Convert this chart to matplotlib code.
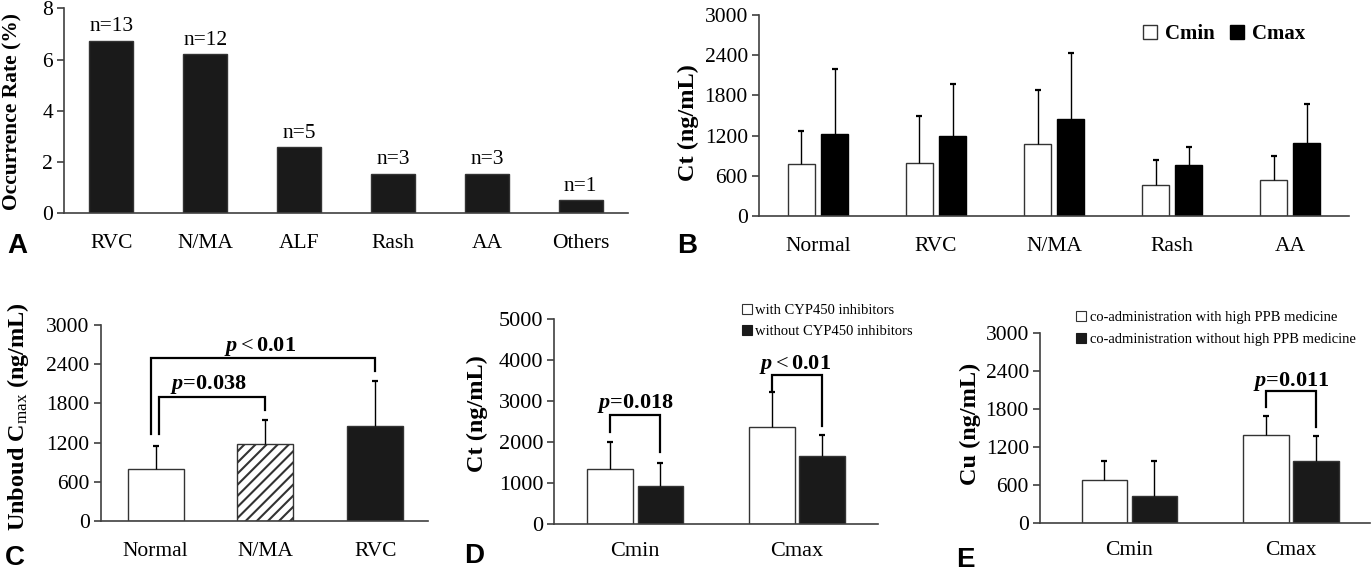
import numpy as np
import matplotlib
matplotlib.use('Agg')
import matplotlib.pyplot as plt
from matplotlib.patches import Patch

plt.rcParams['font.family'] = 'Liberation Serif'
plt.rcParams['mathtext.fontset'] = 'custom'
plt.rcParams['mathtext.it'] = 'Liberation Serif:italic:bold'
plt.rcParams['mathtext.rm'] = 'Liberation Serif'
plt.rcParams['mathtext.bf'] = 'Liberation Serif:bold'
plt.rcParams['hatch.linewidth'] = 1.5

# A: occurrence rate
cats_a = ['RVC', 'N/MA', 'ALF', 'Rash', 'AA', 'Others']
rate_a = [6.74, 6.22, 2.59, 1.55, 1.55, 0.52]
n_a = [13, 12, 5, 3, 3, 1]

# B: Ct by ADR group
cats_b = ['Normal', 'RVC', 'N/MA', 'Rash', 'AA']
cmin_b = [779, 794, 1078, 454, 529]
cmin_b_sd = [494, 703, 804, 385, 360]
cmax_b = [1228, 1198, 1443, 754, 1083]
cmax_b_sd = [973, 769, 998, 269, 594]

# C: unbound Cmax
cats_c = ['Normal', 'N/MA', 'RVC']
cmax_c = [793, 1183, 1459]
cmax_c_sd = [354, 358, 691]

# D: CYP450 inhibitors
cats_d = ['Cmin', 'Cmax']
with_d = [1341, 2366]
with_d_sd = [675, 862]
without_d = [927, 1667]
without_d_sd = [577, 520]

# E: high PPB co-administration
cats_e = ['Cmin', 'Cmax']
with_e = [682, 1395]
with_e_sd = [304, 294]
without_e = [435, 981]
without_e_sd = [541, 388]

# significance labels: (x_left, x_right, y_left, y_right, y_top, label, text_x, text_y)
sig_c = [(0.03, 1.0, 1331, 1700, 1904, '$p$=0.038', 0.48, 2090),
         (-0.04, 2.0, 1331, 2304, 2498, '$p<$0.01', 0.95, 2680)]
sig_d = [(-0.155, 0.155, 2260, 1756, 2667, '$p$=0.018', 0.0, 2950),
         (0.845, 1.155, 3276, 2398, 3642, '$p<$0.01', 0.99, 3900)]
sig_e = [(0.845, 1.155, 1825, 1521, 2087, '$p$=0.011', 1.0, 2225)]

W, H = 1372, 573
fig = plt.figure(figsize=(W / 100, H / 100), dpi=100)

AX_COL = '#404040'
BAR_BLACK = '#1a1a1a'
EDGE = '#333333'


def add_ax(l, r, top, bottom):
    return fig.add_axes([l / W, 1 - bottom / H, (r - l) / W, (bottom - top) / H])


def style(ax, size=15.5):
    for s in ['top', 'right']:
        ax.spines[s].set_visible(False)
    for s in ['left', 'bottom']:
        ax.spines[s].set_color(AX_COL)
        ax.spines[s].set_linewidth(1.2)
    ax.tick_params(axis='y', direction='out', length=5, width=1.2, color=AX_COL,
                   labelsize=size, pad=3)
    ax.tick_params(axis='x', length=0, labelsize=size, pad=15)


def upper_err(ax, x, y, e):
    top = np.array(y) + np.array(e)
    ax.vlines(x, y, top, color='black', lw=1, zorder=3)
    ax.plot(x, top, linestyle='none', marker='_', markersize=5, mew=1.6,
            color='black', zorder=3)


def brackets(ax, specs):
    for x1, x2, y1, y2, yt, lab, tx, ty in specs:
        ax.plot([x1, x1, x2, x2], [y1, yt, yt, y2], color='black', lw=1.6,
                solid_joinstyle='miter', zorder=4)
        ax.text(tx, ty, lab, ha='center', va='center', fontsize=16,
                fontweight='bold')


def ylab(x, y, s, size=17.5):
    fig.text(x / W, 1 - y / H, s, rotation=90, ha='center', va='center',
             fontsize=size, fontweight='bold')


def letter(x, y, s):
    fig.text(x / W, 1 - y / H, s, ha='center', va='center', fontsize=20,
             fontweight='bold', family='Liberation Sans')


# ---- A
axa = add_ax(64.3, 627.7, 8.3, 213.3)
xa = np.arange(len(cats_a))
axa.bar(xa, rate_a, width=0.47, color=BAR_BLACK, edgecolor=EDGE, linewidth=1)
for xi, r, n in zip(xa, rate_a, n_a):
    axa.annotate('n=%d' % n, (xi, r), xytext=(0, 3), textcoords='offset points',
                 ha='center', va='bottom', fontsize=15.5)
axa.set_xlim(-0.5, 5.5)
axa.set_ylim(0, 8)
axa.set_yticks([0, 2, 4, 6, 8])
axa.set_xticks(xa)
axa.set_xticklabels(cats_a)
style(axa)
ylab(12, 111, 'Occurrence Rate (%)', 15.5)
letter(17, 246, 'A')

# ---- B
axb = add_ax(759, 1349.3, 15.3, 215.7)
xb = np.arange(len(cats_b))
off = 0.141
axb.bar(xb - off, cmin_b, width=0.23, color='white', edgecolor=EDGE, linewidth=1)
axb.bar(xb + off, cmax_b, width=0.23, color='black', edgecolor='black', linewidth=1)
upper_err(axb, xb - off, cmin_b, cmin_b_sd)
upper_err(axb, xb + off, cmax_b, cmax_b_sd)
axb.set_xlim(-0.5, 4.5)
axb.set_ylim(0, 3000)
axb.set_yticks([0, 600, 1200, 1800, 2400, 3000])
axb.set_xticks(xb)
axb.set_xticklabels(cats_b)
style(axb)
ylab(688, 123, 'Ct (ng/mL)')
letter(687.5, 246, 'B')
hb = [Patch(facecolor='white', edgecolor=EDGE, linewidth=1),
      Patch(facecolor='black', edgecolor='black', linewidth=1)]
fig.legend(hb, ['Cmin', 'Cmax'], loc='center left',
           bbox_to_anchor=(1142.7 / W, 1 - 34.3 / H), ncol=2, frameon=False,
           borderpad=0, borderaxespad=0, handlelength=0.67, handleheight=0.67,
           handletextpad=0.4, columnspacing=0.72,
           prop={'family': 'Liberation Serif', 'weight': 'bold', 'size': 15})

# ---- C
axc = add_ax(100.7, 428, 325.3, 520.7)
xc = np.arange(len(cats_c))
axc.bar(xc[0], cmax_c[0], width=0.51, color='white', edgecolor=EDGE, linewidth=1)
axc.bar(xc[1], cmax_c[1], width=0.51, color='white', edgecolor=EDGE, linewidth=1,
        hatch='///')
axc.bar(xc[2], cmax_c[2], width=0.51, color=BAR_BLACK, edgecolor=EDGE, linewidth=1)
upper_err(axc, xc, cmax_c, cmax_c_sd)
axc.set_xlim(-0.5, 2.48)
axc.set_ylim(0, 3000)
axc.set_yticks([0, 600, 1200, 1800, 2400, 3000])
axc.set_xticks(xc)
axc.set_xticklabels(cats_c)
style(axc)
brackets(axc, sig_c)
ylab(18, 416.7, r'Unboud $\mathbf{C}_{\mathrm{max}}$ (ng/mL)')
letter(15, 558, 'C')

# ---- D
axd = add_ax(554.3, 878, 319.3, 524.3)
xd = np.arange(len(cats_d))
off = 0.155
axd.bar(xd - off, with_d, width=0.281, color='white', edgecolor=EDGE, linewidth=1)
axd.bar(xd + off, without_d, width=0.281, color=BAR_BLACK, edgecolor=EDGE, linewidth=1)
upper_err(axd, xd - off, with_d, with_d_sd)
upper_err(axd, xd + off, without_d, without_d_sd)
axd.set_xlim(-0.5, 1.5)
axd.set_ylim(0, 5000)
axd.set_yticks([0, 1000, 2000, 3000, 4000, 5000])
axd.set_xticks(xd)
axd.set_xticklabels(cats_d)
style(axd, 16)
axd.tick_params(axis='x', pad=13)
brackets(axd, sig_d)
ylab(477.5, 413.3, 'Ct (ng/mL)')
letter(474.5, 556, 'D')
hd = [Patch(facecolor='white', edgecolor=EDGE, linewidth=0.8),
      Patch(facecolor=BAR_BLACK, edgecolor=BAR_BLACK, linewidth=0.8)]
fig.legend(hd, ['with CYP450 inhibitors', 'without CYP450 inhibitors'],
           loc='center left', bbox_to_anchor=(741.7 / W, 1 - 320.9 / H),
           frameon=False, borderpad=0, borderaxespad=0, handlelength=0.73,
           handleheight=0.73, handletextpad=0.2, labelspacing=0.5,
           prop={'family': 'Liberation Serif', 'size': 10.5})

# ---- E
axe = add_ax(1040, 1370, 332.7, 523.3)
xe = np.arange(len(cats_e))
axe.bar(xe - off, with_e, width=0.281, color='white', edgecolor=EDGE, linewidth=1)
axe.bar(xe + off, without_e, width=0.281, color=BAR_BLACK, edgecolor=EDGE, linewidth=1)
upper_err(axe, xe - off, with_e, with_e_sd)
upper_err(axe, xe + off, without_e, without_e_sd)
axe.set_xlim(-0.553, 1.49)
axe.set_ylim(0, 3000)
axe.set_yticks([0, 600, 1200, 1800, 2400, 3000])
axe.set_xticks(xe)
axe.set_xticklabels(cats_e)
style(axe)
axe.tick_params(axis='x', pad=13)
brackets(axe, sig_e)
ylab(970, 424.2, 'Cu (ng/mL)')
letter(965.8, 560, 'E')
fig.legend(hd, ['co-administration with high PPB medicine',
                'co-administration without high PPB medicine'],
           loc='center left', bbox_to_anchor=(1075.7 / W, 1 - 328.3 / H),
           frameon=False, borderpad=0, borderaxespad=0, handlelength=0.73,
           handleheight=0.73, handletextpad=0.25, labelspacing=0.6,
           prop={'family': 'Liberation Serif', 'size': 10.5})

fig.savefig('out.png', dpi=100)
